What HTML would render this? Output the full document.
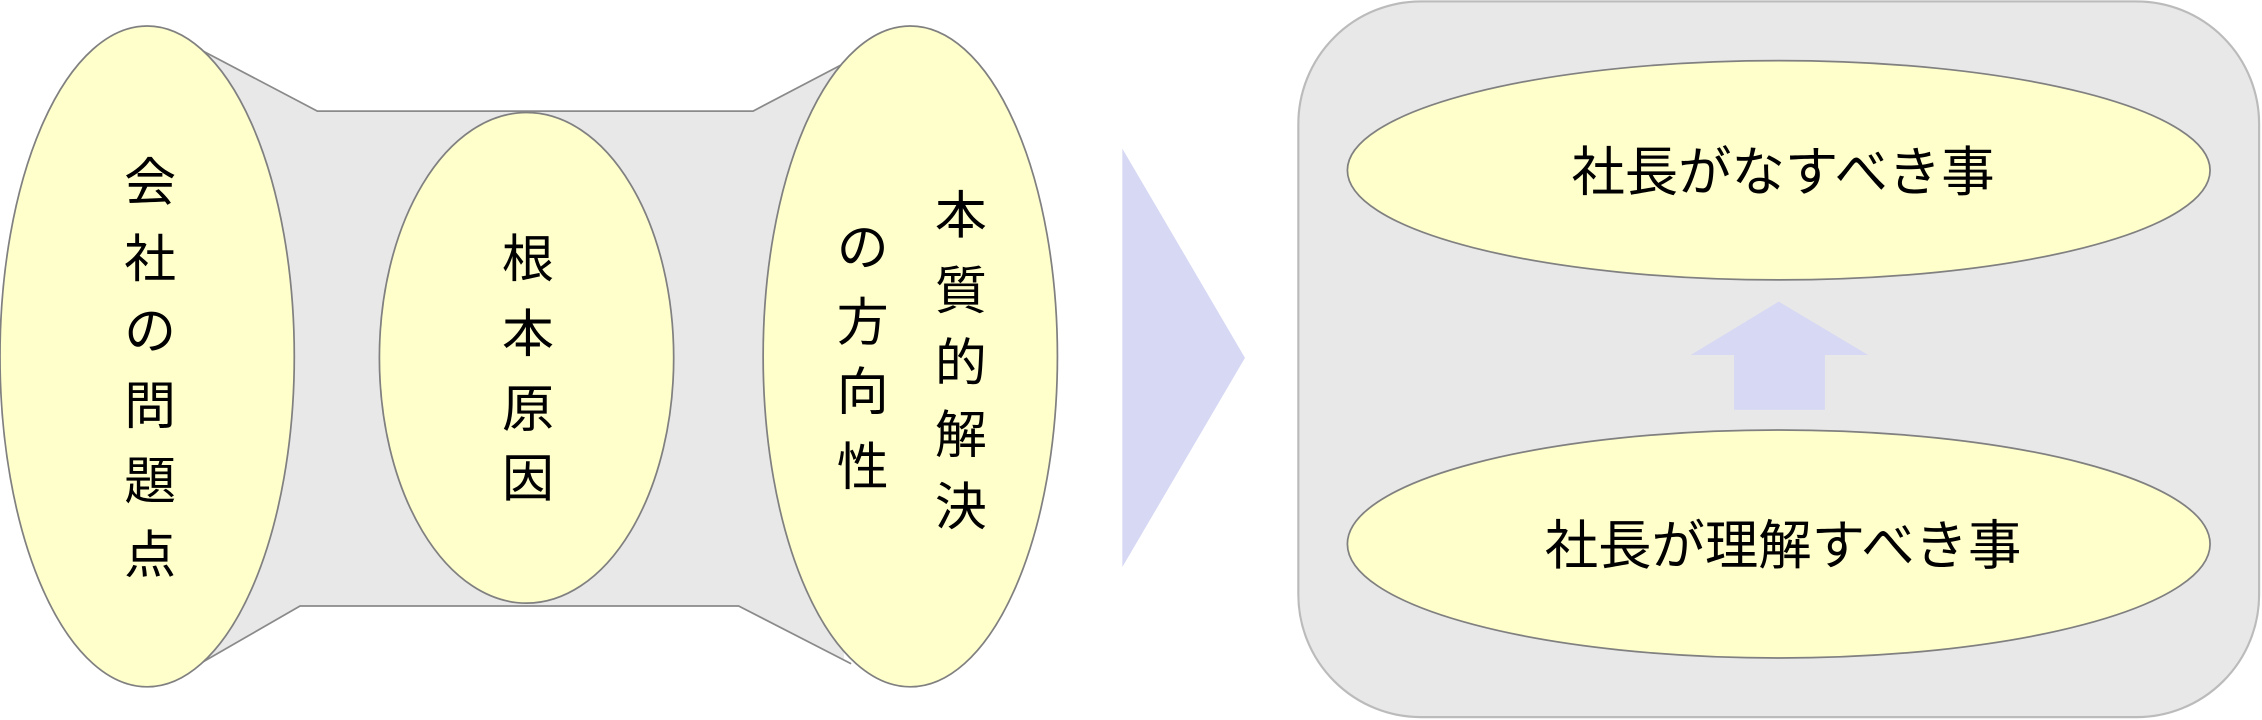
<!DOCTYPE html>
<html><head><meta charset="utf-8"><style>html,body{margin:0;padding:0;background:#fff;}svg{display:block}</style></head>
<body>
<svg width="2262" height="720" viewBox="0 0 1568 499" preserveAspectRatio="none" xmlns="http://www.w3.org/2000/svg" font-family="'Liberation Sans','Noto Sans CJK JP',sans-serif">
<polygon points="140,35 220,77 522,77 585,44 585,458 512,420 208,420 135,462" fill="#e8e8e8"/>
<polyline points="140,35 220,77 522,77 585,44" fill="none" stroke="#8a8a8a" stroke-width="1.2"/>
<polyline points="135,462 208,420 512,420 590,460" fill="none" stroke="#8a8a8a" stroke-width="1.2"/>
<ellipse cx="102" cy="247" rx="102" ry="229" fill="#ffffcc" stroke="#808080" stroke-width="1.2"/>
<ellipse cx="365" cy="248" rx="102" ry="170" fill="#ffffcc" stroke="#808080" stroke-width="1.2"/>
<ellipse cx="631" cy="247" rx="102" ry="229" fill="#ffffcc" stroke="#808080" stroke-width="1.2"/>
<g font-size="36" text-anchor="middle" fill="#000">
<text x="104" y="139">会</text><text x="104" y="192">社</text><text x="104" y="242">の</text><text x="104" y="294">問</text><text x="104" y="346">題</text><text x="104" y="397">点</text>
<text x="366" y="192">根</text><text x="366" y="244">本</text><text x="366" y="296">原</text><text x="366" y="344">因</text>
<text x="666" y="162">本</text><text x="666" y="214">質</text><text x="666" y="264">的</text><text x="666" y="314">解</text><text x="666" y="364">決</text>
<text x="598" y="184">の</text><text x="598" y="236">方</text><text x="598" y="284">向</text><text x="598" y="336">性</text>
</g>
<polygon points="778,103 863,248 778,393" fill="#d6d8f4"/>
<rect x="900" y="1" width="666" height="496" rx="85" fill="#e8e8e8" stroke="#bbbbbb" stroke-width="1.5"/>
<ellipse cx="1233" cy="118" rx="299" ry="76" fill="#ffffcc" stroke="#808080" stroke-width="1.2"/>
<ellipse cx="1233" cy="377" rx="299" ry="79" fill="#ffffcc" stroke="#808080" stroke-width="1.2"/>
<polygon points="1233,209 1295,246 1265,246 1265,284 1202,284 1202,246 1172,246" fill="#d6d8f4"/>
<g font-size="37" text-anchor="middle" fill="#000">
<text x="1236" y="132">社長がなすべき事</text>
<text x="1236" y="391">社長が理解すべき事</text>
</g>
</svg>
</body></html>
